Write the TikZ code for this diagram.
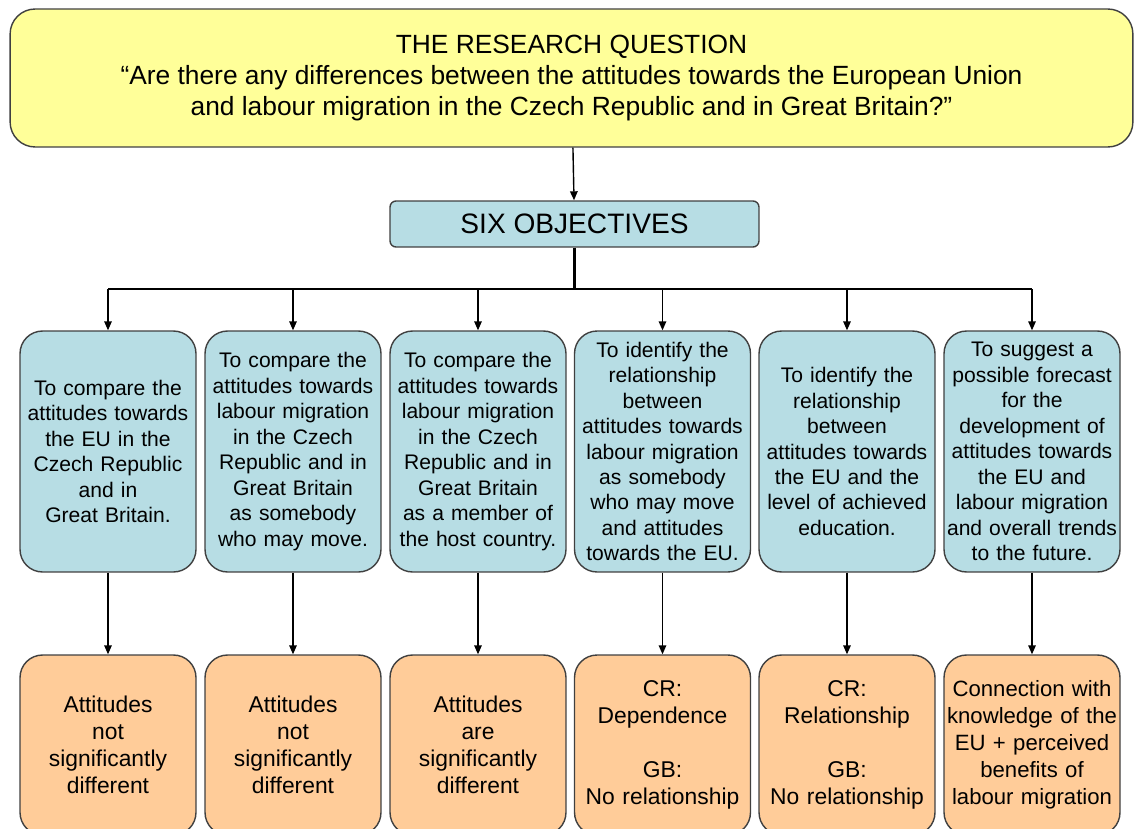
\documentclass[tikz,border=0pt]{standalone}
\usepackage{fontspec}
\setmainfont{Liberation Sans}
\usetikzlibrary{arrows.meta,positioning}
\definecolor{questionYellow}{RGB}{255,255,153}
\definecolor{objectiveBlue}{RGB}{183,221,228}
\definecolor{resultOrange}{RGB}{255,204,153}
\definecolor{boxEdge}{RGB}{64,64,64}
\tikzset{
  objective/.style={draw=boxEdge, line width=0.8pt, fill=objectiveBlue, rounded corners=0.45cm,
    minimum width=3.52cm, minimum height=4.82cm, text width=3.5cm, align=center, inner sep=0pt,
    font=\fontsize{12}{14.5}\selectfont},
  result/.style={draw=boxEdge, line width=0.8pt, fill=resultOrange, rounded corners=0.45cm,
    minimum width=3.52cm, minimum height=3.6cm, text width=3.5cm, align=center, inner sep=0pt,
    font=\fontsize{13}{15.4}\selectfont},
  link/.style={-{Triangle[length=1.8mm,width=1.5mm]}, line width=0.8pt}
}
\begin{document}
\begin{tikzpicture}[x=0.02cm,y=-0.02cm]
  \useasboundingbox (0,0) rectangle (1135,828);
  % research question and objectives header
  \node[draw=boxEdge, line width=0.8pt, fill=questionYellow, rounded corners=0.5cm,
    minimum width=22.46cm, minimum height=2.76cm, align=center,
    font=\fontsize{15}{17.8}\selectfont] (question) at (571.5,78)
    {THE RESEARCH QUESTION\\
     “Are there any differences between the attitudes towards the European Union\\
     and labour migration in the Czech Republic and in Great Britain?”};
  \node[draw=boxEdge, line width=0.8pt, fill=objectiveBlue, rounded corners=0.12cm,
    minimum width=7.38cm, minimum height=0.92cm, font=\fontsize{16}{19}\selectfont]
    (six) at (574.5,224) {SIX OBJECTIVES};
  \coordinate (fork) at (574.5,289);

  % objectives
  \node[objective] (obj1) at (108,451.5) {To compare the\\attitudes towards\\the EU in the\\Czech Republic\\and in\\Great Britain.};
  \node[objective] (obj2) at (293,451.5) {To compare the\\attitudes towards\\labour migration\\in the Czech\\Republic and in\\Great Britain\\as somebody\\who may move.};
  \node[objective] (obj3) at (478,451.5) {To compare the\\attitudes towards\\labour migration\\in the Czech\\Republic and in\\Great Britain\\as a member of\\the host country.};
  \node[objective] (obj4) at (662.5,451.5) {To identify the\\relationship\\between\\attitudes towards\\labour migration\\as somebody\\who may move\\and attitudes\\towards the EU.};
  \node[objective] (obj5) at (847,451.5) {To identify the\\relationship\\between\\attitudes towards\\the EU and the\\level of achieved\\education.};
  \node[objective] (obj6) at (1032,451.5) {To suggest a\\possible forecast\\for the\\development of\\attitudes towards\\the EU and\\labour migration\\and overall trends\\to the future.};

  % results
  \node[result] (res1) at (108,745) {Attitudes\\not\\significantly\\different};
  \node[result] (res2) at (293,745) {Attitudes\\not\\significantly\\different};
  \node[result] (res3) at (478,745) {Attitudes\\are\\significantly\\different};
  \node[result] (res4) at (662.5,745) {CR:\\Dependence\\[\baselineskip]GB:\\No relationship};
  \node[result] (res5) at (847,745) {CR:\\Relationship\\[\baselineskip]GB:\\No relationship};
  \node[result, font=\fontsize{12.6}{15.4}\selectfont] (res6) at (1032,745) {Connection with\\knowledge~of~the\\EU + perceived\\benefits of\\labour migration};

  % connectors
  \draw[link] (question) -- (six);
  \draw[line width=1.4pt] (six) -- (fork);
  \draw[line width=0.8pt] (fork -| obj1) -- (fork -| obj6);
  \draw[link] (fork -| obj1) -- (obj1);
  \draw[link] (fork -| obj2) -- (obj2);
  \draw[link] (fork -| obj3) -- (obj3);
  \draw[link] (fork -| obj4) -- (obj4);
  \draw[link] (fork -| obj5) -- (obj5);
  \draw[link] (fork -| obj6) -- (obj6);
  \draw[link] (obj1) -- (res1);
  \draw[link] (obj2) -- (res2);
  \draw[link] (obj3) -- (res3);
  \draw[link] (obj4) -- (res4);
  \draw[link] (obj5) -- (res5);
  \draw[link] (obj6) -- (res6);
\end{tikzpicture}
\end{document}
